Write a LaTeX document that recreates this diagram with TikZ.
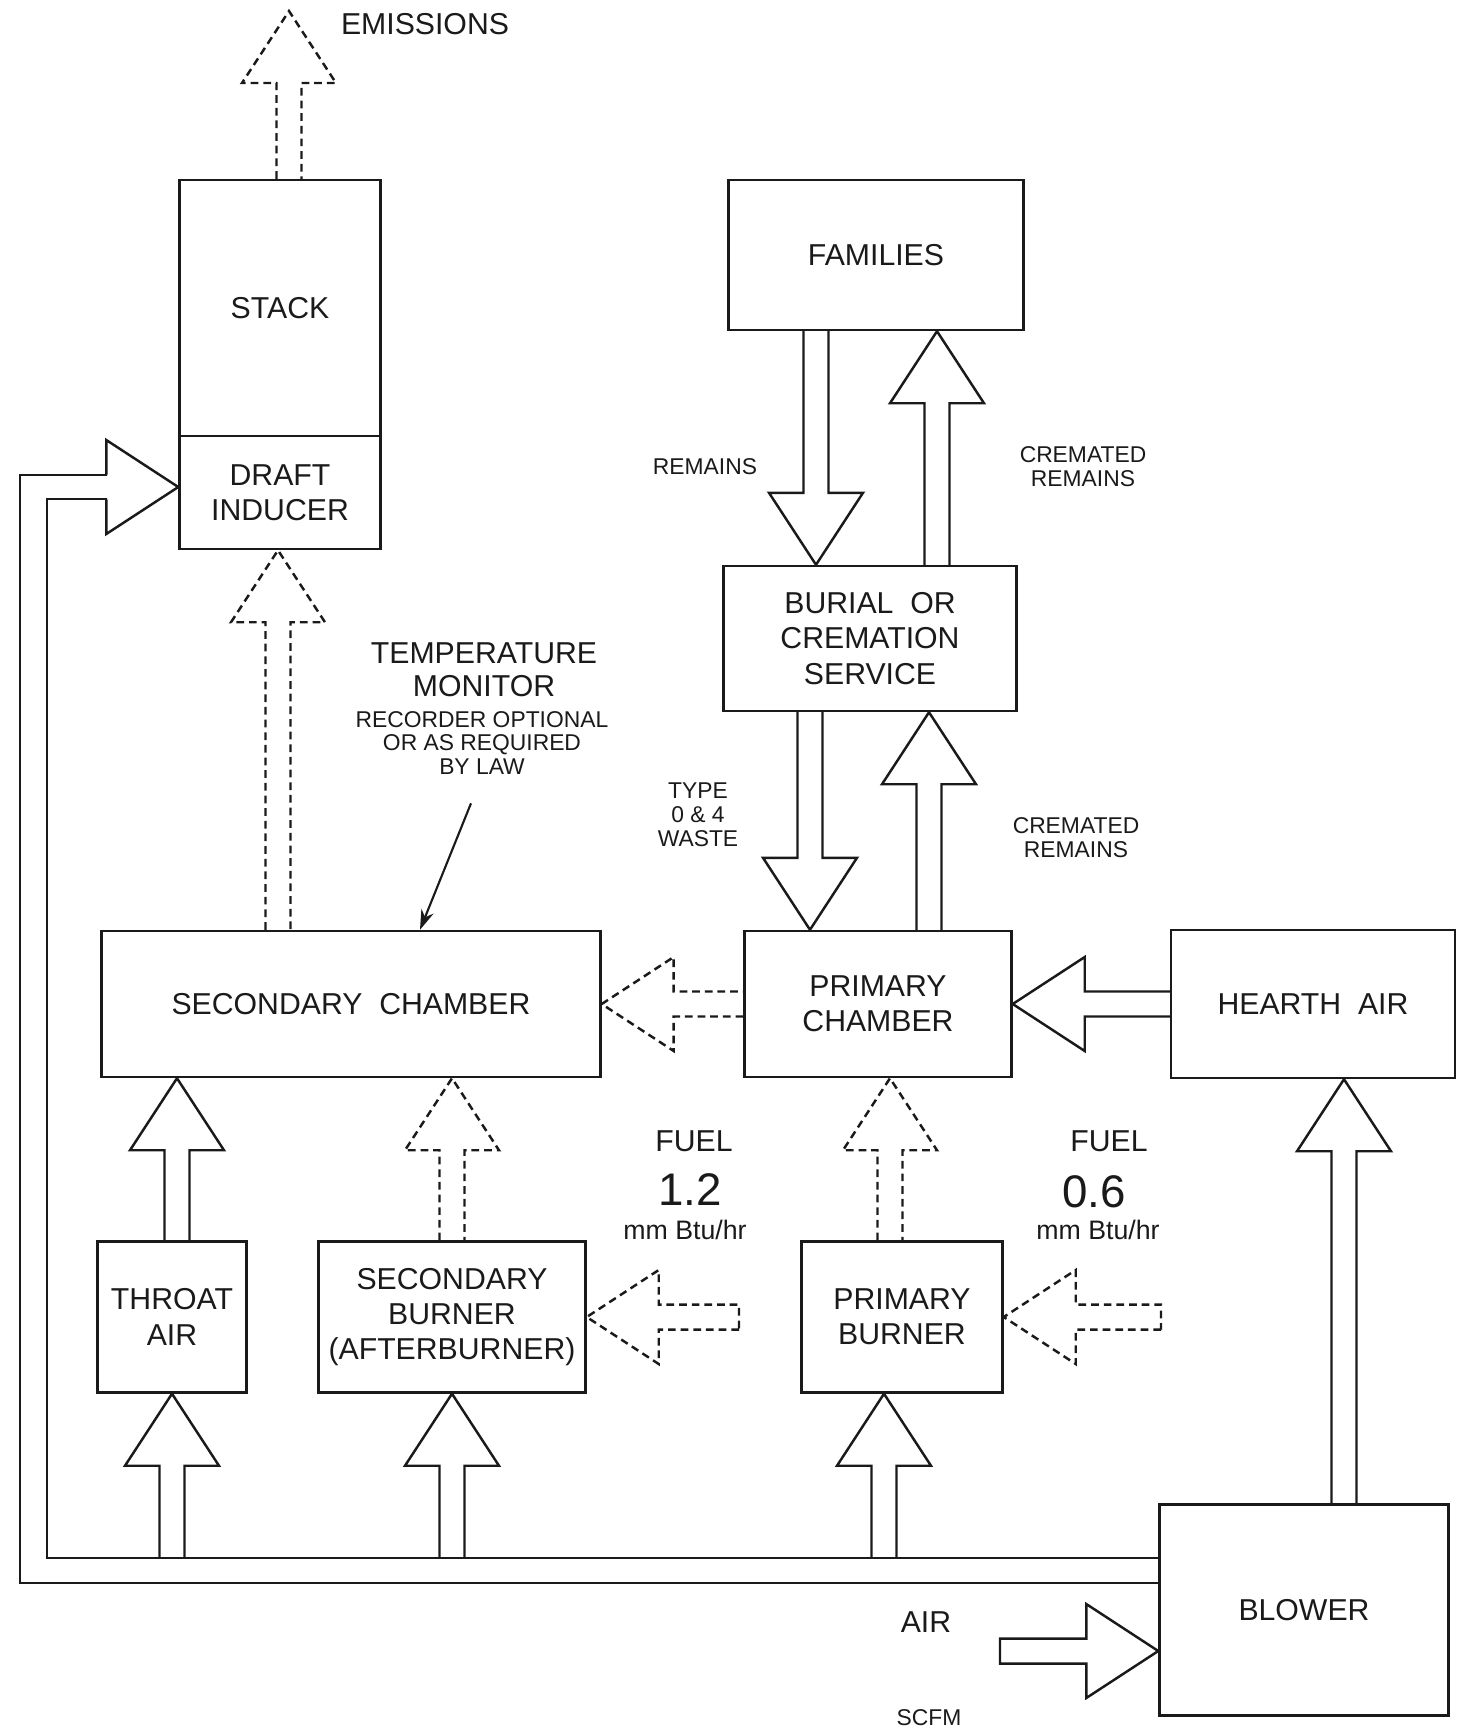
\documentclass[tikz,border=0pt]{standalone}
\usepackage{fontspec}
\setmainfont{Liberation Sans}
\usetikzlibrary{arrows.meta,calc}
\definecolor{crink}{HTML}{1A1A1A}
\tikzset{
  cr text/.style={font=\fontsize{8.6}{10}\selectfont, text=crink},
  cr box/.style={draw=crink, line width=0.7pt, align=center, inner sep=0pt,
    font=\fontsize{8.6}{10}\selectfont},
  cr flow/.style={draw=crink, line width=0.7pt, line join=miter},
  cr gas/.style={dash pattern=on 2.2pt off 1.4pt},
  cr duct/.style={draw=crink, line width=0.7pt},
  cr label/.style={font=\fontsize{8.6}{9.4}\selectfont, text=crink, align=center},
  cr note/.style={font=\fontsize{6.5}{6.8}\selectfont, text=crink, align=center},
  cr unit/.style={font=\fontsize{7.6}{8}\selectfont, text=crink},
  cr hand/.style={font=\fontsize{13}{13}\selectfont, text=crink},
  cr leader/.style={draw=crink, line width=0.6pt, -{Stealth[length=2mm,width=1.3mm]}}
}
% outline of a hollow block arrow from \p1 to \p2 (used inside let)
\newcommand{\crshape}{%
    ($(\p1)+(\n1+90:1.25mm)$)
    -- ($(\p2)+(\n1+180:7.2mm)+(\n1+90:1.25mm)$)
    -- ($(\p2)+(\n1+180:7.2mm)+(\n1+90:4.7mm)$)
    -- (\p2)
    -- ($(\p2)+(\n1+180:7.2mm)+(\n1-90:4.7mm)$)
    -- ($(\p2)+(\n1+180:7.2mm)+(\n1-90:1.25mm)$)
    -- ($(\p1)+(\n1-90:1.25mm)$)}
% block arrow between two boxes (open tail)
\newcommand{\crflow}[3][]{%
  \draw[cr flow,#1] let \p1=(#2), \p2=(#3), \n1={atan2(\y2-\y1,\x2-\x1)} in \crshape;
}
% block arrow from a free end (closed tail)
\newcommand{\crfeed}[3][]{%
  \draw[cr flow,#1] let \p1=(#2), \p2=(#3), \n1={atan2(\y2-\y1,\x2-\x1)} in \crshape -- cycle;
}

\begin{document}
\begin{tikzpicture}[cr text, x=0.1mm, y=-0.1mm]
  \useasboundingbox (0,0) rectangle (1466,1732);
  % boxes
  \node[cr box, minimum width=20.1mm, minimum height=25.6mm] (stack) at (280,308) {STACK};
  \node[cr box, minimum width=20.1mm, minimum height=11.3mm] (draft) at (280,492.5) {DRAFT\\INDUCER};
  \node[cr box, minimum width=29.5mm, minimum height=15mm] (fam) at (876,255) {FAMILIES};
  \node[cr box, minimum width=29.3mm, minimum height=14.5mm] (bur) at (870,638.5) {BURIAL\ \ OR\\CREMATION\\SERVICE};
  \node[cr box, minimum width=49.9mm, minimum height=14.6mm] (sec) at (351,1004) {SECONDARY\ \ CHAMBER};
  \node[cr box, minimum width=26.7mm, minimum height=14.6mm] (prim) at (878,1004) {PRIMARY\\CHAMBER};
  \node[cr box, minimum width=28.4mm, minimum height=14.8mm] (hearth) at (1313,1004) {HEARTH\ \ AIR};
  \node[cr box, minimum width=14.9mm, minimum height=15.1mm] (throat) at (172,1317) {THROAT\\AIR};
  \node[cr box, minimum width=26.7mm, minimum height=15.1mm] (secb) at (452,1317) {SECONDARY\\BURNER\\(AFTERBURNER)};
  \node[cr box, minimum width=20.1mm, minimum height=15.1mm] (primb) at (902,1317) {PRIMARY\\BURNER};
  \node[cr box, minimum width=28.9mm, minimum height=21.1mm] (blower) at (1304,1610) {BLOWER};

  % free ends
  \coordinate (emit) at (289,11);
  \coordinate (duct) at (107,487);
  \coordinate (airo) at (20,1583);
  \coordinate (airi) at (47,1558);
  \coordinate (fuel1) at (739,1317);
  \coordinate (fuel2) at (1161,1317);
  \coordinate (airin) at (1000,1651);

  % air duct from the blower
  \draw[cr duct] ([yshift=1.2mm]duct) -| (airo) -- (airo -| blower.west);
  \draw[cr duct] ([yshift=-1.2mm]duct) -| (airi) -- (airi -| blower.west);

  % flows
  \crflow[cr gas]{[xshift=0.9mm]stack.north}{emit}
  \crflow{duct}{duct -| draft.west}
  \crflow[cr gas]{[xshift=-7.3mm]sec.north}{[xshift=-7.3mm]sec.north |- draft.south}
  \crflow{[xshift=-6mm]fam.south}{[xshift=-6mm]fam.south |- bur.north}
  \crflow{[xshift=6.7mm]bur.north}{[xshift=6.7mm]bur.north |- fam.south}
  \crflow{[xshift=-6mm]bur.south}{[xshift=-6mm]bur.south |- prim.north}
  \crflow{[xshift=5.1mm]prim.north}{[xshift=5.1mm]prim.north |- bur.south}
  \crflow[cr gas]{prim.west}{prim.west -| sec.east}
  \crflow{hearth.west}{hearth.west -| prim.east}
  \crflow{[xshift=0.5mm]throat.north}{[xshift=0.5mm]throat.north |- sec.south}
  \crflow{throat.south |- airi}{throat.south}
  \crflow[cr gas]{secb.north}{secb.north |- sec.south}
  \crflow{secb.south |- airi}{secb.south}
  \crfeed[cr gas]{fuel1}{fuel1 -| secb.east}
  \crflow[cr gas]{[xshift=-1.2mm]primb.north}{[xshift=-1.2mm]primb.north |- prim.south}
  \crflow{[xshift=-1.8mm]primb.south |- airi}{[xshift=-1.8mm]primb.south}
  \crfeed[cr gas]{fuel2}{fuel2 -| primb.east}
  \crflow{[xshift=4mm]blower.north}{[xshift=4mm]blower.north |- hearth.south}
  \crfeed{airin}{airin -| blower.west}

  % labels
  \node[cr label] (emlab) at (425,24) {EMISSIONS};
  \node[cr note] (remlab) at (705,467) {REMAINS};
  \node[cr note] (crem1) at (1083,467) {CREMATED\\REMAINS};
  \node[cr note] (waste) at (698,815) {TYPE\\0 \& 4\\WASTE};
  \node[cr note] (crem2) at (1076,838) {CREMATED\\REMAINS};
  \node[cr label] (tmon) at (484,670) {TEMPERATURE\\MONITOR};
  \node[cr note] (trec) at (482,743) {RECORDER OPTIONAL\\OR AS REQUIRED\\BY LAW};
  \draw[cr leader] ([xshift=-1.1mm,yshift=-1.6mm]trec.south) -- ([xshift=6.9mm]sec.north);
  \node[cr label] (fuellab1) at (694,1141) {FUEL};
  \node[cr hand] (rate1) at (690,1190) {1.2};
  \node[cr unit] (unit1) at (685,1230) {mm Btu/hr};
  \node[cr label] (fuellab2) at (1109,1141) {FUEL};
  \node[cr hand] (rate2) at (1094,1192) {0.6};
  \node[cr unit] (unit2) at (1098,1230) {mm Btu/hr};
  \node[cr label] (airlab) at (926,1622) {AIR};
  \node[cr note] (scfm) at (929,1718) {SCFM};
\end{tikzpicture}
\end{document}
